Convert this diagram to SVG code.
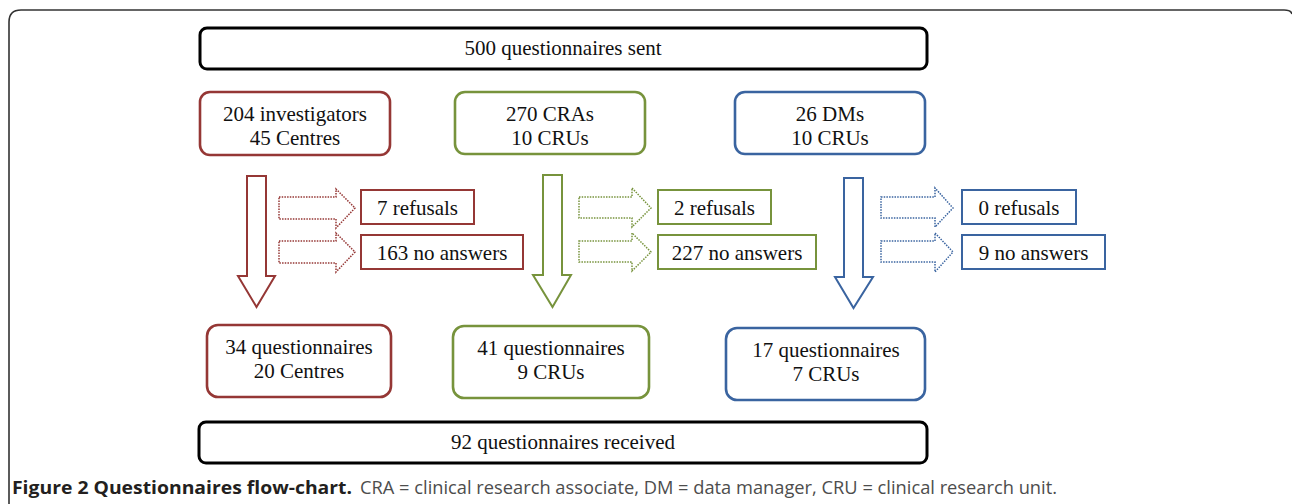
<svg xmlns="http://www.w3.org/2000/svg" width="1292" height="504" viewBox="0 0 1292 504">
<style>
.t{font-family:"Liberation Serif","Times New Roman",serif;font-size:21px;fill:#111;text-anchor:middle}
.red{stroke:#953735}
.grn{stroke:#77933c}
.blu{stroke:#3a64a0}
.rbox{fill:#fff;stroke-width:2.6}
.bbox{fill:#fff;stroke:#000;stroke-width:3}
.sbox{fill:#fff;stroke-width:2}
.down{fill:#fff;stroke-width:2}
.dot{fill:#fff;stroke-width:1.5;stroke-dasharray:1.5 1.2}
.cap{font-family:"Open Sans","Noto Sans","Liberation Sans",sans-serif;font-size:18px}
</style>
<rect width="1292" height="504" fill="#fff"/>
<path d="M9,504 V22 Q9,10 21,10 H1284 Q1291,10 1292,14" fill="none" stroke="#333" stroke-width="1.6"/>

<g id="sent"><rect class="bbox" x="200" y="28" width="727" height="41" rx="7"/><text class="t" x="563" y="55">500 questionnaires sent</text></g>

<g id="investigators"><rect class="rbox red" x="200" y="92" width="190" height="63" rx="10"/><text class="t" x="295" y="121">204 investigators</text><text class="t" x="295" y="145">45 Centres</text></g>
<g id="cras"><rect class="rbox grn" x="455" y="92" width="190" height="62" rx="10"/><text class="t" x="550" y="121">270 CRAs</text><text class="t" x="550" y="145">10 CRUs</text></g>
<g id="dms"><rect class="rbox blu" x="735" y="92" width="190" height="62" rx="10"/><text class="t" x="830" y="121">26 DMs</text><text class="t" x="830" y="145">10 CRUs</text></g>

<g id="connectors">
<path class="down red" d="M247,176 H266 V276 H275 L256.5,307 L238,276 H247 Z"/>
<path class="down grn" d="M543,175 H562 V275 H571 L552.5,307 L533,275 H543 Z"/>
<path class="down blu" d="M844,178 H863 V277 H873 L853.5,308 L835,277 H844 Z"/>
<path class="dot red" d="M279,197 H336 V189 L355,208 L336,228 V219 H279 Z"/>
<path class="dot red" d="M279,241 H336 V233 L355,252 L336,272 V263 H279 Z"/>
<path class="dot grn" d="M579,197 H632 V188 L651,208 L632,227 V218 H579 Z"/>
<path class="dot grn" d="M579,241 H632 V233 L651,252 L632,271 V262 H579 Z"/>
<path class="dot blu" d="M881,197 H935 V188 L953,208 L935,227 V218 H881 Z"/>
<path class="dot blu" d="M881,241 H935 V233 L953,252 L935,272 V262 H881 Z"/>
</g>

<g id="ref-red"><rect class="sbox red" x="361" y="190" width="113" height="34"/><text class="t" x="417.5" y="215">7 refusals</text></g>
<g id="na-red"><rect class="sbox red" x="361" y="235" width="162" height="34"/><text class="t" x="442" y="260">163 no answers</text></g>
<g id="ref-grn"><rect class="sbox grn" x="658" y="190" width="113" height="34"/><text class="t" x="714.5" y="215">2 refusals</text></g>
<g id="na-grn"><rect class="sbox grn" x="658" y="235" width="158" height="34"/><text class="t" x="737" y="260">227 no answers</text></g>
<g id="ref-blu"><rect class="sbox blu" x="962" y="190" width="114" height="34"/><text class="t" x="1019" y="215">0 refusals</text></g>
<g id="na-blu"><rect class="sbox blu" x="962" y="235" width="143" height="34"/><text class="t" x="1033.5" y="260">9 no answers</text></g>

<g id="q-red"><rect class="rbox red" x="207" y="325" width="184" height="72" rx="11"/><text class="t" x="299" y="354">34 questionnaires</text><text class="t" x="299" y="378">20 Centres</text></g>
<g id="q-grn"><rect class="rbox grn" x="453" y="326" width="196" height="72" rx="11"/><text class="t" x="551" y="355">41 questionnaires</text><text class="t" x="551" y="379">9 CRUs</text></g>
<g id="q-blu"><rect class="rbox blu" x="726" y="328" width="199" height="72" rx="11"/><text class="t" x="826" y="357">17 questionnaires</text><text class="t" x="826" y="381">7 CRUs</text></g>

<g id="received"><rect class="bbox" x="199" y="422" width="728" height="41" rx="7"/><text class="t" x="563" y="449">92 questionnaires received</text></g>

<text class="cap" x="12" y="494"><tspan font-weight="bold" fill="#231f20" textLength="340" lengthAdjust="spacingAndGlyphs">Figure 2 Questionnaires flow-chart.</tspan><tspan x="360" fill="#4d4d4d" textLength="697" lengthAdjust="spacingAndGlyphs">CRA = clinical research associate, DM = data manager, CRU = clinical research unit.</tspan></text>
</svg>
